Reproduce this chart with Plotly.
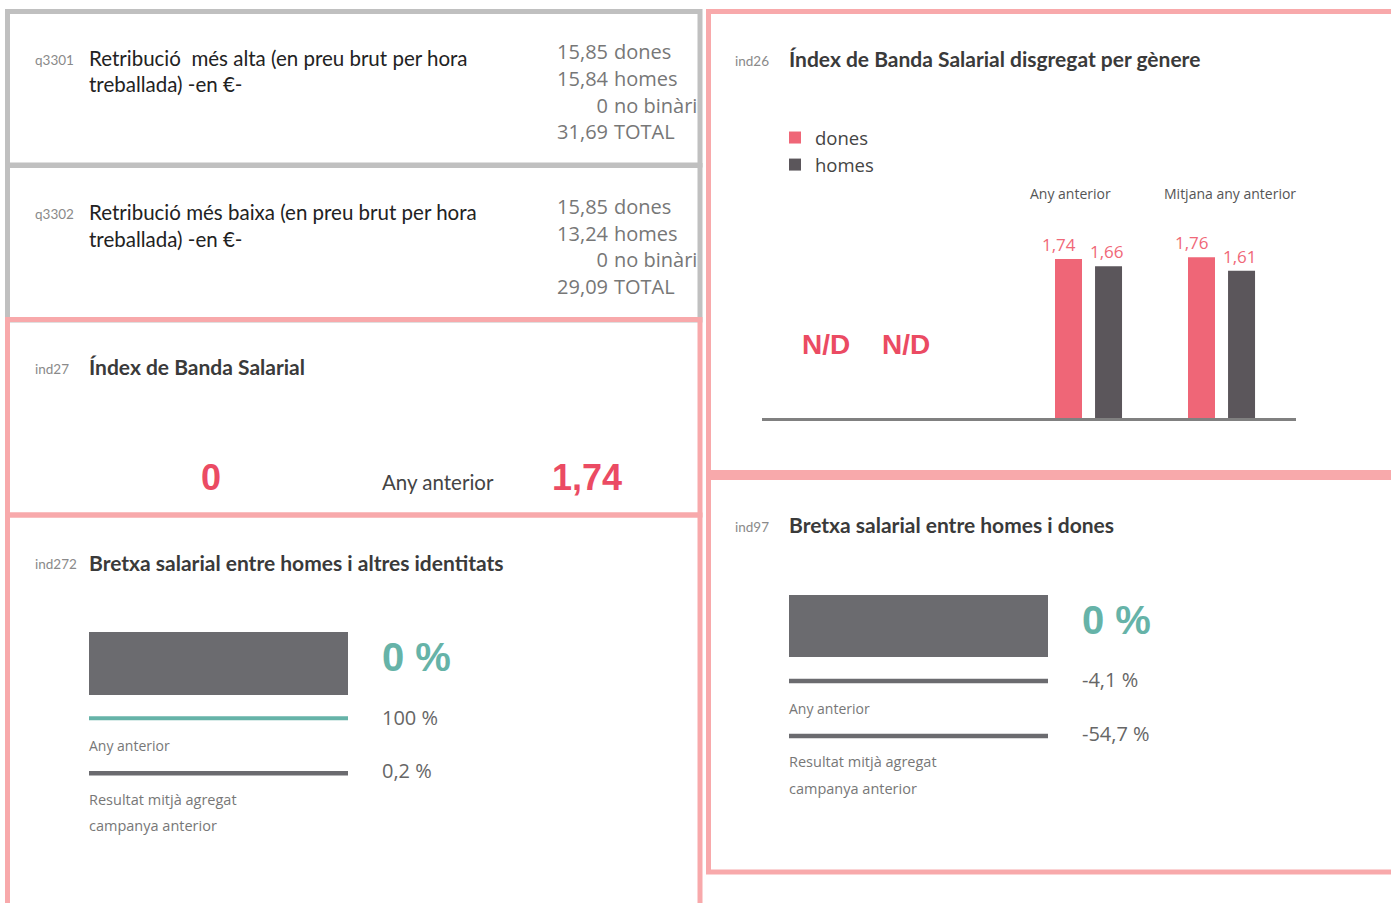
import plotly.graph_objects as go

W, H = 1391, 903

# ---------------- data ----------------
row_labels = ["dones", "homes", "no binàries", "TOTAL"]
q3301_values = [15.85, 15.84, 0, 31.69]
q3302_values = [15.85, 13.24, 0, 29.09]

ind27_value = 0
ind27_prev = 1.74

ind26_series = ["dones", "homes"]
ind26_groups = ["Any anterior", "Mitjana any anterior"]
ind26_dones = [1.74, 1.76]
ind26_homes = [1.66, 1.61]
ind26_current = ["N/D", "N/D"]

gap_rows = ["Resultat", "Any anterior", "Resultat mitjà agregat campanya anterior"]
ind272_values = [0, 100, 0.2]
ind97_values = [0, -4.1, -54.7]
track_length = [1, 1, 1]

# ---------------- style ----------------
RED = "#eb4b63"
RED_BAR = "#ef6677"
RED_LBL = "#f06878"
GREY_BAR = "#5b565b"
BLOCK = "#6b6b6f"
TEAL = "#66b3a8"
PINK = "#f8a9ab"
GREYB = "#c0c0c0"
COND = "Lato"
SANS = "Open Sans"
BOLD = "Liberation Sans"


def dx(p):
    return p / W


def dy(p):
    return 1 - p / H


def num(v):
    return "0" if v == 0 else f"{v:.2f}".replace(".", ",")


def pct(v):
    return f"{v:g}".replace(".", ",") + " %"


def txt(s, x, y, size, color, family, weight="normal", xanchor="left"):
    return dict(text=s, x=dx(x), y=dy(y), xref="paper", yref="paper",
                xanchor=xanchor, yanchor="middle", showarrow=False,
                xshift=-2 if xanchor == "left" else 0,
                font=dict(family=family, size=size, color=color, weight=weight))


fig = go.Figure()

# ---- ind26 grouped bars ----
bar_labels = []
for name, vals, col, off, shift in [("dones", ind26_dones, RED_BAR, -0.248, -29),
                                    ("homes", ind26_homes, GREY_BAR, 0.053, 19)]:
    fig.add_trace(go.Bar(
        x=ind26_groups, y=vals, name=name, marker=dict(color=col, line=dict(width=0)),
        width=[0.203] * len(vals), offset=[off] * len(vals),
        xaxis="x", yaxis="y", hoverinfo="skip"))
    for g, v in zip(ind26_groups, vals):
        bar_labels.append(dict(text=num(v), x=g, y=v, xref="x", yref="y",
                               xanchor="center", yanchor="bottom", xshift=shift, yshift=1,
                               showarrow=False,
                               font=dict(family=SANS, size=17, color=RED_LBL)))

# ---- horizontal track bars ----
fig.add_trace(go.Bar(
    y=gap_rows, x=track_length, orientation="h", showlegend=False,
    width=[63 / 54.9, 4 / 54.9, 4.5 / 54.9],
    marker=dict(color=[BLOCK, TEAL, BLOCK], line=dict(width=0)),
    xaxis="x3", yaxis="y3", hoverinfo="skip"))
fig.add_trace(go.Bar(
    y=gap_rows, x=track_length, orientation="h", showlegend=False,
    width=[62 / 55, 4.5 / 55, 4.5 / 55],
    marker=dict(color=[BLOCK, BLOCK, BLOCK], line=dict(width=0)),
    xaxis="x4", yaxis="y4", hoverinfo="skip"))

# ---- q3301 / q3302 number rows (clipped at panel edge) ----
for vals, ys in [(q3301_values, [54, 81, 108, 134]), (q3302_values, [209, 236, 262, 289])]:
    fig.add_trace(go.Scatter(
        x=[608] * 4, y=ys, mode="text", text=[num(v) for v in vals],
        textposition="middle left", textfont=dict(family=SANS, size=20, color="#777777"),
        showlegend=False, hoverinfo="skip", cliponaxis=True, xaxis="x5", yaxis="y5"))
    fig.add_trace(go.Scatter(
        x=[614] * 4, y=ys, mode="text", text=row_labels,
        textposition="middle right", textfont=dict(family=SANS, size=20, color="#777777"),
        showlegend=False, hoverinfo="skip", cliponaxis=True, xaxis="x5", yaxis="y5"))

hidden = dict(visible=False, fixedrange=True)
fig.update_layout(
    width=W, height=H, margin=dict(l=0, r=0, t=0, b=0),
    paper_bgcolor="white", plot_bgcolor="rgba(0,0,0,0)",
    separators=",.", barmode="overlay", showlegend=True,
    xaxis=dict(domain=[dx(762), dx(1296)], type="category", range=[-2.451, 1.564],
               showline=True, linecolor="#808080", linewidth=3, showticklabels=False,
               ticks="", showgrid=False, zeroline=False, fixedrange=True),
    yaxis=dict(domain=[dy(418), dy(235.2)], range=[0, 2], visible=False, fixedrange=True),
    xaxis3=dict(domain=[dx(89), dx(348)], range=[0, 1], anchor="y3", **hidden),
    yaxis3=dict(domain=[dy(789.7), dy(625.1)], type="category", categoryarray=gap_rows,
                range=[2.3, -0.7], anchor="x3", **hidden),
    xaxis4=dict(domain=[dx(789), dx(1048)], range=[0, 1], anchor="y4", **hidden),
    yaxis4=dict(domain=[dy(752.5), dy(587.5)], type="category", categoryarray=gap_rows,
                range=[2.3, -0.7], anchor="x4", **hidden),
    xaxis5=dict(domain=[0, dx(697)], range=[0, 697], anchor="y5", **hidden),
    yaxis5=dict(domain=[0, 1], range=[H, 0], anchor="x5", **hidden),
    legend=dict(x=dx(775), y=dy(119), xanchor="left", yanchor="top",
                font=dict(family=SANS, size=18.5, color="#444444"),
                bgcolor="rgba(0,0,0,0)", tracegroupgap=0),
)

# ---- panel borders ----
shapes = []
def box(x0, y0, x1, y1, col):
    shapes.append(dict(type="rect", xref="paper", yref="paper",
                       x0=dx(x0), x1=dx(x1), y0=dy(y0), y1=dy(y1),
                       line=dict(color=col, width=5), fillcolor="rgba(0,0,0,0)"))
box(7.5, 11.5, 700, 165, GREYB)
box(7.5, 165.5, 700, 320, GREYB)
box(7.5, 319.5, 700, 515, PINK)
box(7.5, 515, 700, 915, PINK)
box(708.5, 11.5, 1400, 472.5, PINK)
box(708.5, 477.5, 1400, 872, PINK)
fig.update_layout(shapes=shapes)

ID = "#8a8a8a"
TITLE = "#3a3a3a"
DARK = "#222222"
SUB = "#777777"
TS = 21
BS = 20.5
ann = [
    # q3301
    txt("q3301", 35, 60, 13.5, ID, COND),
    txt("Retribució  més alta (en preu brut per hora", 89, 58, BS, DARK, COND),
    txt("treballada) -en €-", 89, 84, BS, DARK, COND),
    # q3302
    txt("q3302", 35, 214, 13.5, ID, COND),
    txt("Retribució més baixa (en preu brut per hora", 89, 212, BS, DARK, COND),
    txt("treballada) -en €-", 89, 239, BS, DARK, COND),
    # ind27
    txt("ind27", 35, 369, 13.5, ID, COND),
    txt("Índex de Banda Salarial", 89, 367, TS, TITLE, COND, "bold"),
    txt(num(ind27_value), 211, 477, 36, RED, BOLD, "bold", "center"),
    txt("Any anterior", 382, 482, BS, "#444444", COND),
    txt(num(ind27_prev), 552, 477, 36, RED, BOLD, "bold"),
    # ind272
    txt("ind272", 35, 564, 13.5, ID, COND),
    txt("Bretxa salarial entre homes i altres identitats", 89, 562, TS, TITLE, COND, "bold"),
    txt(pct(ind272_values[0]), 382, 657, 40, TEAL, BOLD, "bold"),
    txt(pct(ind272_values[1]), 382, 717, 20, "#666666", SANS),
    txt("Any anterior", 89, 745, 14, SUB, SANS),
    txt(pct(ind272_values[2]), 382, 770, 20, "#666666", SANS),
    txt("Resultat mitjà agregat", 89, 799, 14.5, SUB, SANS),
    txt("campanya anterior", 89, 825, 14.5, SUB, SANS),
    # ind26
    txt("ind26", 735, 61, 13.5, ID, COND),
    txt("Índex de Banda Salarial disgregat per gènere", 789, 58, TS, TITLE, COND, "bold"),
    txt(ind26_groups[0], 1070, 193, 14, "#555555", SANS, xanchor="center"),
    txt(ind26_groups[1], 1230, 193, 14, "#555555", SANS, xanchor="center"),
    txt(ind26_current[0], 826, 344, 28, RED, BOLD, "bold", "center"),
    txt(ind26_current[1], 906, 344, 28, RED, BOLD, "bold", "center"),
    # ind97
    txt("ind97", 735, 527, 13.5, ID, COND),
    txt("Bretxa salarial entre homes i dones", 789, 524, TS, TITLE, COND, "bold"),
    txt(pct(ind97_values[0]), 1082, 620, 40, TEAL, BOLD, "bold"),
    txt(pct(ind97_values[1]), 1082, 679, 20, "#666666", SANS),
    txt("Any anterior", 789, 708, 14, SUB, SANS),
    txt(pct(ind97_values[2]), 1082, 733, 20, "#666666", SANS),
    txt("Resultat mitjà agregat", 789, 761, 14.5, SUB, SANS),
    txt("campanya anterior", 789, 788, 14.5, SUB, SANS),
]
fig.update_layout(annotations=ann + bar_labels)

fig.write_html("out.html", config={"displayModeBar": False},
               post_script="document.body.style.margin='0px';")
